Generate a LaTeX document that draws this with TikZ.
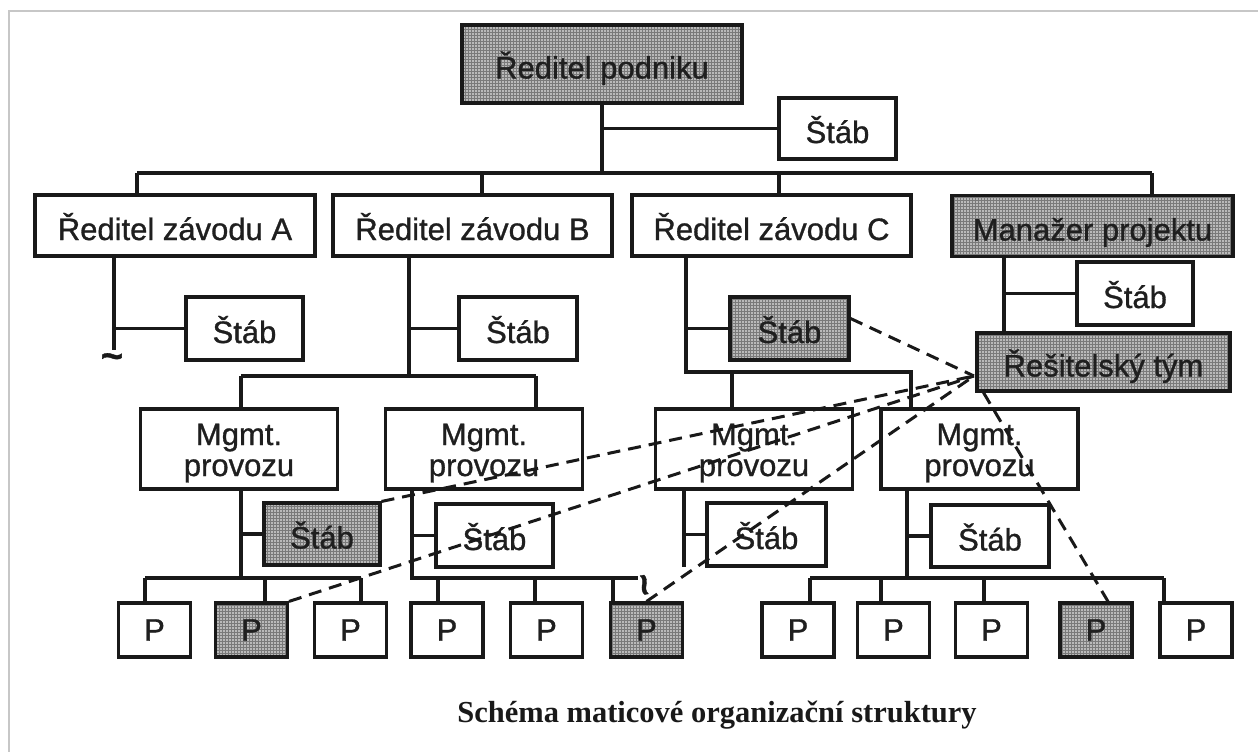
\documentclass[tikz,border=0pt]{standalone}
\usepackage{fontspec}
\setmainfont{Liberation Sans}
\newfontfamily\boxfont{Liberation Sans}[FakeBold=1.0]
\newfontfamily\captionfont{Liberation Serif}
\usetikzlibrary{patterns,calc}
\begin{document}
\begin{tikzpicture}[x=1pt,y=-1pt,
  base/.style={draw=black!90, line width=3.1pt, inner sep=0pt,
    font=\boxfont\fontsize{31}{31}\selectfont, text=black!88},
  box/.style={base, text height=29pt, text depth=0pt},
  mgmt/.style={base, align=center, minimum width=197pt, minimum height=80pt,
    text height=60pt, text depth=6pt},
  pbox/.style={base, minimum width=72pt, minimum height=54pt},
  hatch/.style={preaction={fill=black!27}, pattern=grid, pattern color=black!52},
  wire/.style={draw=black!90, line width=3.1pt},
  link/.style={draw=black!90, line width=3pt, dash pattern=on 13pt off 8pt},
  squig/.style={font=\boxfont\bfseries\fontsize{38}{38}\selectfont, text=black!90, inner sep=0pt}]
\useasboundingbox (0,0) rectangle (1258,752);
% page edge
\draw[black!22, line width=1.2pt] (9,752) -- (9,11) -- (1258,11);

% top management
\node[box, hatch, minimum width=280pt, minimum height=78pt] (rp) at (602,64) {Ředitel podniku};
\node[box, minimum width=117pt, minimum height=61pt] (s0) at (837.5,128.5) {Štáb};

% plant directors and project manager
\node[box, minimum width=280pt, minimum height=61pt] (zA) at (175,225.5) {Ředitel závodu A};
\node[box, minimum width=279pt, minimum height=61pt] (zB) at (472.5,225.5) {Ředitel závodu B};
\node[box, minimum width=279pt, minimum height=61pt] (zC) at (771.5,225.5) {Ředitel závodu C};
\node[box, hatch, minimum width=281pt, minimum height=61pt] (mp) at (1092.5,226) {Manažer projektu};

% staff of the plant directors
\node[box, minimum width=117pt, minimum height=63pt] (sA) at (244.5,328.5) {Štáb};
\node[box, minimum width=118pt, minimum height=63pt] (sB) at (518,328.5) {Štáb};
\node[box, hatch, minimum width=119pt, minimum height=63pt] (sC) at (789.5,328.5) {Štáb};
\node[box, minimum width=116pt, minimum height=63pt] (sM) at (1135,293.5) {Štáb};
\node[box, hatch, minimum width=253pt, minimum height=58pt] (rt) at (1103.5,362) {Řešitelský tým};

% operations management
\node[mgmt] (mA) at (239,449) {Mgmt.\\provozu};
\node[mgmt] (mB) at (484,449) {Mgmt.\\provozu};
\node[mgmt] (mC) at (754,449) {Mgmt.\\provozu};
\node[mgmt] (mD) at (979.5,449) {Mgmt.\\provozu};

\node[box, hatch, minimum width=116pt, minimum height=62pt] (s2A) at (322,534) {Štáb};
\node[box, minimum width=117pt, minimum height=63pt] (s2B) at (494.5,535.5) {Štáb};
\node[box, minimum width=119pt, minimum height=63pt] (s2C) at (766.5,534.5) {Štáb};
\node[box, minimum width=118pt, minimum height=62pt] (s2D) at (990,536) {Štáb};

% workplaces
\node[pbox] (P1) at (154.5,630) {P};
\node[pbox, hatch] (P2) at (251.5,630) {P};
\node[pbox] (P3) at (350.5,630) {P};
\node[pbox] (P4) at (447,630) {P};
\node[pbox] (P5) at (546.5,630) {P};
\node[pbox, hatch] (P6) at (646.5,630) {P};
\node[pbox] (P7) at (798,630) {P};
\node[pbox] (P8) at (893.5,630) {P};
\node[pbox] (P9) at (991.5,630) {P};
\node[pbox, hatch] (P10) at (1096,630) {P};
\node[pbox] (P11) at (1196,630) {P};

% ---- line connections ----
\coordinate (b1w) at (137,173);
\coordinate (b1e) at (1152,173);
\coordinate (b1b) at (482,173);
\coordinate (b1c) at (779,173);
\draw[wire] (rp.south) |- (s0.west);
\draw[wire] (rp.south) -- (rp.south |- b1w);
\draw[wire] (b1w) -- (b1e);
\draw[wire] (b1w) -- (b1w |- zA.north);
\draw[wire] (b1b) -- (b1b |- zB.north);
\draw[wire] (b1c) -- (b1c |- zC.north);
\draw[wire] (b1e) -- (b1e |- mp.north);

% plant A (continues off the chart)
\coordinate (tA) at (114,350);
\draw[wire] (zA.south -| tA) -- (tA);
\draw[wire] (tA |- sA.west) -- (sA.west);
\node[squig] (brkA) at (112,361) {\textasciitilde};

% plant B
\coordinate (vB) at (409,376);
\coordinate (bABw) at (241,376);
\coordinate (bABe) at (536,376);
\draw[wire] (zB.south -| vB) -- (vB);
\draw[wire] (vB |- sB.west) -- (sB.west);
\draw[wire] (bABw) -- (bABe);
\draw[wire] (bABw) -- (bABw |- mA.north);
\draw[wire] (bABe) -- (bABe |- mB.north);

% plant C
\coordinate (bCDw) at (686,372);
\coordinate (bCDe) at (911,372);
\coordinate (dC) at (732,372);
\draw[wire] (zC.south -| bCDw) -- (bCDw) -- (bCDe) -- (bCDe |- mD.north);
\draw[wire] (bCDw |- sC.west) -- (sC.west);
\draw[wire] (dC) -- (dC |- mC.north);

% project manager
\coordinate (vM) at (1004,296);
\draw[wire] (mp.south -| vM) -- (rt.north -| vM);
\draw[wire] (vM |- sM.west) -- (sM.west);

% operations A
\coordinate (vmA) at (241,578);
\coordinate (pAw) at (145,578);
\coordinate (pAe) at (361,578);
\coordinate (dP2) at (265,578);
\draw[wire] (mA.south -| vmA) -- (vmA);
\draw[wire] (vmA |- s2A.west) -- (s2A.west);
\draw[wire] (pAw) -- (pAe);
\draw[wire] (pAw) -- (pAw |- P1.north);
\draw[wire] (dP2) -- (dP2 |- P2.north);
\draw[wire] (pAe) -- (pAe |- P3.north);

% operations B
\coordinate (pBw) at (412,578);
\coordinate (pBe) at (638,578);
\coordinate (dP4) at (438,578);
\coordinate (dP5) at (535,578);
\coordinate (dP6) at (613,578);
\draw[wire] (mB.south -| pBw) -- (pBw) -- (pBe);
\draw[wire] (pBw |- s2B.west) -- (s2B.west);
\draw[wire] (dP4) -- (dP4 |- P4.north);
\draw[wire] (dP5) -- (dP5 |- P5.north);
\draw[wire] (dP6) -- (dP6 |- P6.north);
\node[squig, rotate=100] (brkB) at (649,584) {\textasciitilde};

% operations C
\coordinate (vmC) at (684,567);
\draw[wire] (mC.south -| vmC) -- (vmC);
\draw[wire] (vmC |- s2C.west) -- (s2C.west);

% operations D
\coordinate (vmD) at (907,578);
\coordinate (pDw) at (810,578);
\coordinate (pDe) at (1164,578);
\coordinate (dP8) at (881,578);
\coordinate (dP9) at (984,578);
\draw[wire] (mD.south -| vmD) -- (vmD);
\draw[wire] (vmD |- s2D.west) -- (s2D.west);
\draw[wire] (pDw) -- (pDe);
\draw[wire] (pDw) -- (pDw |- P7.north);
\draw[wire] (dP8) -- (dP8 |- P8.north);
\draw[wire] (dP9) -- (dP9 |- P9.north);
\draw[wire] (pDe) -- (pDe |- P11.north);

% ---- project team links ----
\coordinate (hub) at (974,376);
\draw[link] ($(sC.east)+(0,-10)$) -- (hub);
\draw[link] (s2A.north east) -- (hub);
\draw[link] (P2.north east) -- (hub);
\draw[link] (P6.north) -- (hub);
\draw[link] ($(rt.south west)+(8,0)$) -- ($(P10.north)+(12,0)$);

% caption
\node[font=\captionfont\bfseries\fontsize{30.5}{30.5}\selectfont, text=black!90, anchor=base, inner sep=0pt] (cap) at (717,722) {Schéma maticové organizační struktury};
\end{tikzpicture}
\end{document}
